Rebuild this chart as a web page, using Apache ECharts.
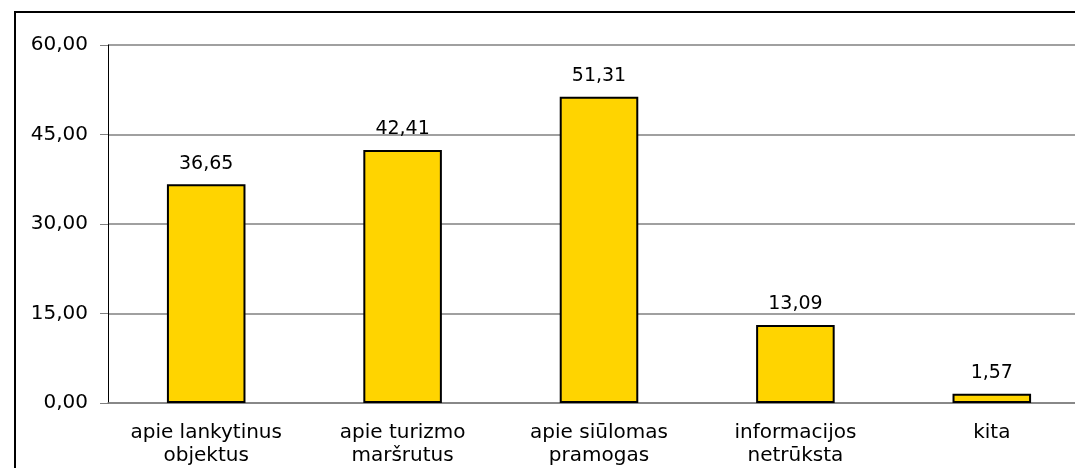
<!DOCTYPE html>
<html><head><meta charset="utf-8">
<script src="https://cdn.jsdelivr.net/npm/echarts@6/dist/echarts.min.js"></script>
<style>html,body{margin:0;padding:0;background:#fff}#c{width:1075px;height:468px}</style>
</head><body><div id="c"></div>
<script>
const categories = ['apie lankytinus\nobjektus', 'apie turizmo\nmaršrutus', 'apie siūlomas\npramogas', 'informacijos\nnetrūksta', 'kita'];
const values = [36.65, 42.41, 51.31, 13.09, 1.57];
const yTicks = [0, 15, 30, 45, 60];

const fmt = v => v.toFixed(2).replace('.', ',');
const FONT = 'DejaVu Sans, Verdana, sans-serif';
const chart = echarts.init(document.getElementById('c'));
chart.setOption({
  animation: false,
  textStyle: { fontFamily: FONT },
  graphic: [{
    type: 'rect', shape: { x: 15, y: 12, width: 1200, height: 600 },
    style: { fill: 'none', stroke: '#000', lineWidth: 2 }, z: -10
  }],
  grid: { left: 108, top: 45, width: 982, height: 358, outerBoundsMode: 'none', containLabel: false },
  xAxis: {
    type: 'category', data: categories,
    axisLine: { lineStyle: { color: '#808080', width: 1.5 } },
    axisTick: { show: false },
    axisLabel: { color: '#000', fontFamily: FONT, fontSize: 20, lineHeight: 23, margin: 18, interval: 0 }
  },
  yAxis: {
    type: 'value', min: yTicks[0], max: yTicks[yTicks.length - 1], interval: 15,
    axisLine: { show: true, lineStyle: { color: '#000', width: 1 } },
    axisTick: { show: true, length: 8, lineStyle: { color: '#808080' } },
    axisLabel: { color: '#000', fontFamily: FONT, fontSize: 20, margin: 20, formatter: v => fmt(v) },
    splitLine: { lineStyle: { color: '#808080', width: 1.5 } }
  },
  series: [{
    type: 'bar', data: values, barWidth: '40%',
    itemStyle: { color: '#FFD400', borderColor: '#000', borderWidth: 2 },
    label: { show: true, position: 'top', distance: 11, color: '#000', fontFamily: FONT, fontSize: 19, formatter: p => fmt(p.value) }
  }]
});
</script></body></html>
